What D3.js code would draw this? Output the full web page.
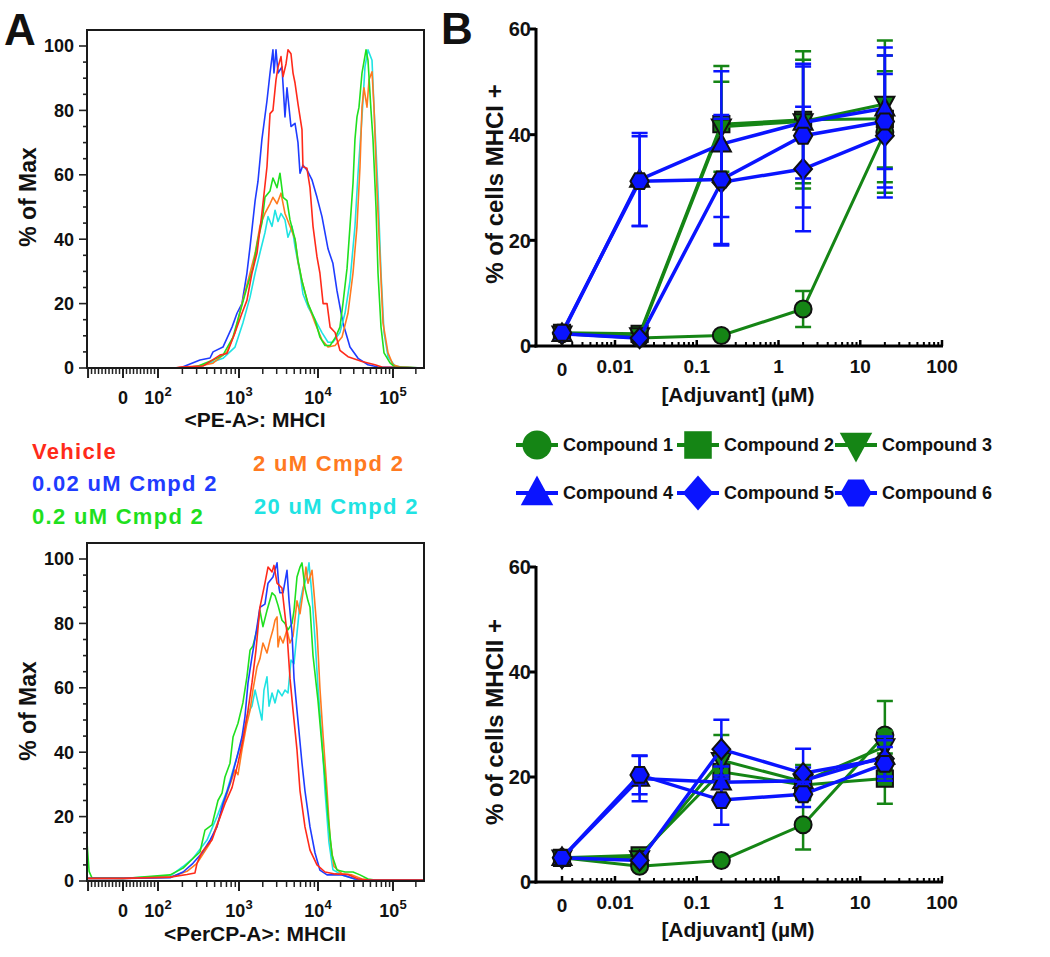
<!DOCTYPE html>
<html><head><meta charset="utf-8">
<script src="https://cdn.jsdelivr.net/npm/d3@7"></script>
<style>
body{margin:0;background:#fff;}
svg text{font-family:"Liberation Sans",Arial,Helvetica,sans-serif;font-weight:bold;fill:#111;}
</style></head><body>
<svg id="chart" width="1050" height="957"></svg>
<script>
// ---------------- Panel A data: flow histograms (x = fluorescence, y = % of Max) ----------------
const histLegend = ["Vehicle", "0.02 uM Cmpd 2", "0.2 uM Cmpd 2", "2 uM Cmpd 2", "20 uM Cmpd 2"];
const histColors = ["#ff2a1a", "#1f3cff", "#1fe01f", "#ff7a1f", "#1fe3e3"];

const mhciVehicle = [[-103,0],[162,0],[187,0.3],[359,0.6],[582,4],[711,4.5],[893,11],[1090,17],[1260,21],[1460,29.5],[1690,35.7],[1950,48],[2260,62.5],[2470,79],[2690,80],[2940,89.5],[3120,93.5],[3400,96.7],[3610,90.5],[3940,94.5],[4170,98.8],[4550,97.6],[4830,91.6],[5120,88.5],[5580,82],[6270,74],[6450,62.5],[7250,62],[7920,56],[8650,44],[9710,34.5],[10600,29.5],[11700,20],[13200,20],[14500,12.7],[16900,11],[19600,5.5],[25100,3.5],[38600,2],[57500,1],[71300,0.3],[256000,0]];
const mhci002 = [[-103,0],[187,0],[330,2.5],[439,3.1],[478,5],[634,6.5],[820,12.7],[945,17],[1090,20],[1260,29.5],[1380,37.6],[1600,52],[1740,58],[1950,71],[2260,83],[2470,91.6],[2690,98.8],[2770,91.6],[2940,98.8],[3120,91.6],[3500,93.5],[3820,78],[4050,87],[4550,75],[5120,76],[5580,70],[5920,60.5],[6450,63],[7250,61.5],[8400,58.4],[9710,53],[11300,47],[13600,37],[15800,32.5],[17900,24],[21500,14],[26700,6.5],[34200,3],[46400,1],[63100,0.3],[256000,0]];
const mhci02 = [[-103,0],[187,0],[303,0.5],[478,2.5],[634,4],[844,9.6],[1030,17.4],[1260,25],[1500,31],[1740,40],[1950,45],[2130,53],[2470,55],[2690,59],[3030,56],[3300,60.5],[3610,53],[4050,52],[4420,46],[5120,40],[5580,33.5],[6270,27],[7470,20],[9170,15],[10600,9.6],[12400,7],[14500,7],[16900,9.3],[19600,12.7],[21500,20],[24400,31],[26700,44],[29300,57.4],[31100,71],[33100,78],[35200,81],[38600,91.6],[43700,98.8],[46400,95.6],[50900,80],[54100,71],[59300,50],[63100,29.5],[69200,12.7],[75900,4.7],[91200,1.6],[106000,0.3],[256000,0]];
const mhci2 = [[-103,0],[187,0],[303,0.5],[478,1.5],[711,5],[893,11],[1090,20],[1380,29.5],[1600,35.7],[1840,44],[2130,48],[2470,51],[2690,53],[3030,51],[3400,54.3],[3820,48],[4420,44],[5120,40],[5580,33],[6270,27],[7470,20],[9170,14],[11300,8.7],[13600,6.5],[16900,7],[20900,9.6],[25100,17],[29300,29.5],[33100,44],[36300,62.5],[38600,81],[41000,87],[45000,81],[47900,89.5],[52500,92],[55800,81],[61200,55],[67100,34.5],[73600,14],[85800,4.7],[100000,1],[124000,0.3],[256000,0]];
const mhci20 = [[-103,0],[187,0],[330,0.5],[634,3],[893,6.5],[1120,14],[1380,22],[1600,29.5],[1840,35.7],[2130,42],[2330,47],[2620,44],[2860,49],[3120,45.5],[3400,48],[3820,46],[4170,40.6],[4690,44],[5120,37.6],[5920,29.5],[6450,23],[7470,19],[9170,15],[11300,11],[13600,8],[15800,8],[19600,11],[22900,17],[26700,27],[31100,44],[34200,60.5],[38600,78],[42300,93.5],[46400,98.8],[52500,95.6],[55800,81],[63100,55],[69200,29.5],[75900,11],[85800,3.5],[106000,0.6],[131000,0.3],[256000,0]];

const mhciiVehicle = [[-103,0.8],[0,0.8],[141,1.2],[228,2],[286,2.5],[303,5.5],[349,9],[464,12.7],[550,18],[671,24],[820,29],[972,36.6],[1120,43.8],[1300,53],[1460,61.5],[1640,71.7],[1840,85],[2130,92.5],[2330,97.5],[2620,96],[2770,98],[3030,92.5],[3500,91],[4050,77],[4420,63],[4830,53],[5420,40.7],[5920,28],[6840,16.8],[7920,9.6],[9710,5],[12400,2.8],[16900,2.2],[25100,2],[34200,0.6],[46400,0.3],[256000,0.3]];
const mhcii002 = [[-103,0.8],[0,0.8],[141,1],[204,2.8],[270,5.5],[349,8.7],[439,12.7],[535,16.8],[634,24],[774,30.4],[945,38.5],[1090,44.7],[1190,51],[1300,61.5],[1460,69.6],[1690,79],[1840,85],[2130,86],[2330,92.5],[2690,94.4],[3030,98.8],[3210,91],[3300,89.5],[3610,89.5],[4050,96.5],[4300,87],[4690,77],[4970,63],[5420,53],[6270,36.6],[6840,28],[7920,16.8],[9170,8.7],[10600,3.4],[13200,1.9],[20900,1.9],[31100,0.6],[42300,0.3],[256000,0.3]];
const mhcii02 = [[-103,12],[-97,3],[-89,1],[0,0.8],[141,1.9],[204,4],[270,7],[330,9],[380,15.8],[464,17.4],[550,25],[617,27.3],[671,32.3],[774,36.6],[844,44.7],[972,49],[1120,55.3],[1260,63.4],[1380,71.7],[1500,73],[1690,78],[1840,84],[2010,79],[2260,84],[2620,89.5],[2860,88.6],[3120,85.6],[3500,81],[3820,80],[4170,78],[4690,80],[4970,84],[5420,94.4],[5920,97.5],[6270,98.8],[6840,91],[7470,87],[7920,85],[8650,70],[10000,56],[11300,42],[12400,32],[13600,20],[15400,8],[17900,3.4],[22900,2.8],[29300,2.8],[36300,1.9],[46400,0.6],[57500,0.3],[256000,0.3]];
const mhcii2 = [[-103,0.8],[0,0.8],[141,1.2],[228,3],[303,5.5],[439,11.8],[582,20],[731,28],[893,34.5],[972,33],[1090,40.7],[1260,49],[1380,53],[1500,59.3],[1690,66.5],[1840,69],[2010,73.9],[2260,70.8],[2470,74.8],[2690,78],[2860,81],[3030,82],[3120,72.7],[3300,76],[3610,73.9],[4050,78],[4420,73.9],[4830,76],[5420,87],[5920,83],[6450,89.5],[7040,97.5],[7470,92.5],[8400,96.5],[8900,89.5],[9710,78],[10600,60],[11700,45],[13200,28],[14500,13],[16300,4.5],[20900,2.2],[28400,1.9],[38600,0.6],[52500,0.3],[256000,0.3]];
const mhcii20 = [[-103,0.8],[0,0.8],[141,1.5],[204,4.5],[270,7],[403,12.7],[535,20],[711,28],[893,36.6],[1030,41.6],[1190,47.8],[1300,52.2],[1460,54.3],[1600,59.3],[1740,55.3],[1950,50],[2070,59.3],[2260,63.4],[2400,54.3],[2620,58.4],[2860,55.3],[3120,59.3],[3500,57.5],[3820,59.3],[4170,58.4],[4550,68.6],[4970,67.5],[5420,77],[5920,86.3],[6450,91],[7250,94.4],[7690,98.8],[8400,88.6],[9170,75],[10000,60],[11300,44],[12400,28],[14000,12],[15800,3.5],[20900,1.9],[31100,0.6],[42300,0.3],[256000,0.3]];

const histMajorTicks = [0, 100, 1000, 10000, 100000];
const histMajorExp = [null, 2, 3, 4, 5];
const histYTicks = [0, 20, 40, 60, 80, 100];

// ---------------- Panel B data: dose response ----------------
const doses = [0, 0.02, 0.2, 2, 20];
const doseTickValues = [0, 0.01, 0.1, 1, 10, 100];
const doseTickLabels = ["0", "0.01", "0.1", "1", "10", "100"];
const pctTicks = [0, 20, 40, 60];
const compounds = ["Compound 1", "Compound 2", "Compound 3", "Compound 4", "Compound 5", "Compound 6"];
const compoundShapes = ["circle", "square", "triangleDown", "triangleUp", "diamond", "hexagon"];
const compoundColors = ["#158515", "#158515", "#158515", "#0a14ff", "#0a14ff", "#0a14ff"];

const mhciMean = [
  [2.3, 1.5, 2.0, 7.0, 40.5],
  [2.5, 2.3, 42.0, 42.8, 43.0],
  [2.3, 2.0, 41.5, 42.5, 45.8],
  [2.3, 31.5, 38.2, 42.3, 45.0],
  [2.3, 1.5, 31.0, 33.5, 39.8],
  [2.5, 31.2, 31.5, 39.8, 42.5]
];
const mhciSem = [
  [0, 0, 0, 3.4, 11.5],
  [0, 0, 11, 13, 12],
  [0, 0, 8.5, 11.7, 12],
  [0, 8.8, 13.8, 10.6, 11.5],
  [0, 0, 12, 11.8, 11.7],
  [0, 8.5, 12.2, 13.6, 12.5]
];
const mhciiMean = [
  [4.6, 3.0, 4.1, 10.9, 28.0],
  [4.6, 5.1, 21.0, 18.5, 19.7],
  [4.6, 4.5, 23.2, 19.1, 25.8],
  [4.6, 19.7, 19.0, 19.3, 23.9],
  [4.6, 4.1, 25.3, 20.7, 23.5],
  [4.6, 20.4, 15.6, 16.7, 22.5]
];
const mhciiSem = [
  [0, 0, 0, 4.7, 6.5],
  [0, 0, 2.5, 2.5, 4.8],
  [0, 0, 4.8, 3.2, 3],
  [0, 4.3, 3, 2.5, 3.8],
  [0, 0, 5.6, 4.7, 3.5],
  [0, 3.7, 4.7, 2.4, 3.2]
];

// ---------------- drawing ----------------
const svg = d3.select("#chart");

// biexponential-like display: linear below 100, log10 above
const tfm = v => v >= 100 ? Math.log10(v) : v / 50;
const xHist = d3.scaleLinear()
  .domain([tfm(-103), tfm(0), tfm(100), tfm(1000), tfm(10000), tfm(100000), tfm(256000)])
  .range([87, 123, 158, 239, 318, 393, 424]);
const hx = v => xHist(tfm(v));

function histPanel(top, bottom, curves, order, xTitle, labelBase, titleBase, yTitleY, clipId) {
  const y = d3.scaleLinear().domain([0, 100]).range([bottom, top + 16]);
  const g = svg.append("g");
  g.append("clipPath").attr("id", clipId).append("rect")
    .attr("x", 87).attr("y", top).attr("width", 337).attr("height", bottom - top + 1);
  const minor = d3.range(0, 101, 5);
  g.selectAll(null).data(minor).join("line")
    .attr("x1", d => d % 20 === 0 ? 79 : 83).attr("x2", 87)
    .attr("y1", d => y(d)).attr("y2", d => y(d))
    .attr("stroke", "#222").attr("stroke-width", 1.6);
  g.selectAll(null).data(histYTicks).join("text")
    .attr("x", 74).attr("y", d => y(d)).attr("dy", "0.35em")
    .attr("text-anchor", "end").attr("font-size", 18).text(d => d);
  const minorX = [];
  for (let v = -90; v < 0; v += 10) minorX.push(v);
  for (let v = 10; v < 100; v += 10) minorX.push(v);
  [100, 1000, 10000, 100000].forEach(dec => { for (let k = 2; k <= 9; k++) if (dec * k <= 256000) minorX.push(dec * k); });
  g.selectAll(null).data(minorX).join("line")
    .attr("x1", d => hx(d)).attr("x2", d => hx(d))
    .attr("y1", bottom).attr("y2", bottom + 6)
    .attr("stroke", "#222").attr("stroke-width", 1.5);
  g.selectAll(null).data([-100].concat(histMajorTicks)).join("line")
    .attr("x1", d => hx(d)).attr("x2", d => hx(d))
    .attr("y1", bottom).attr("y2", bottom + 10)
    .attr("stroke", "#222").attr("stroke-width", 2);
  histMajorTicks.forEach((v, i) => {
    const t = g.append("text").attr("x", hx(v)).attr("y", labelBase)
      .attr("text-anchor", "middle").attr("font-size", 18);
    if (histMajorExp[i] === null) t.text("0");
    else {
      t.append("tspan").text("10");
      t.append("tspan").attr("dy", -8).attr("font-size", 13).text(histMajorExp[i]);
    }
  });
  const line = d3.line().x(d => hx(d[0])).y(d => y(d[1]));
  const cg = g.append("g").attr("clip-path", `url(#${clipId})`);
  order.forEach(i => {
    cg.append("path").datum(curves[i]).attr("d", line)
      .attr("fill", "none").attr("stroke", histColors[i])
      .attr("stroke-width", 1.6).attr("stroke-linejoin", "round");
  });
  g.append("rect").attr("x", 87).attr("y", top).attr("width", 337).attr("height", bottom - top)
    .attr("fill", "none").attr("stroke", "#1a1a1a").attr("stroke-width", 2);
  g.append("text").attr("x", 255).attr("y", titleBase).attr("text-anchor", "middle")
    .attr("font-size", 21).text(xTitle);
  g.append("text").attr("transform", `translate(36,${yTitleY}) rotate(-90)`)
    .attr("text-anchor", "middle").attr("font-size", 23).text("% of Max");
}

histPanel(30, 368, [mhciVehicle, mhci002, mhci02, mhci2, mhci20], [1, 4, 3, 2, 0],
  "<PE-A>: MHCI", 404, 427, 197, "clipA1");
histPanel(543, 881, [mhciiVehicle, mhcii002, mhcii02, mhcii2, mhcii20], [4, 3, 2, 1, 0],
  "<PerCP-A>: MHCII", 917, 941, 711, "clipA2");

// legend A
const legA = [
  {i: 0, x: 32, y: 459}, {i: 1, x: 32, y: 491}, {i: 2, x: 32, y: 524},
  {i: 3, x: 253, y: 471}, {i: 4, x: 254, y: 514}
];
legA.forEach(d => {
  svg.append("text").attr("x", d.x).attr("y", d.y).attr("font-size", 22)
    .attr("letter-spacing", 1.3).style("fill", histColors[d.i]).text(histLegend[d.i]);
});

svg.append("text").attr("x", 4).attr("y", 45).attr("font-size", 44).text("A");
svg.append("text").attr("x", 441).attr("y", 44).attr("font-size", 44).text("B");

// ---------------- Panel B ----------------
const xLog = d3.scaleLog().domain([0.01, 100]).range([615, 942]);
const zeroPos = 562;
const xB = d => d === 0 ? zeroPos : xLog(d);

function markerPath(shape, r) {
  const p = d3.path();
  if (shape === "circle") { p.moveTo(r, 0); p.arc(0, 0, r, 0, 2 * Math.PI); }
  else if (shape === "square") { const s = r * 0.95; p.rect(-s, -s, 2 * s, 2 * s); }
  else if (shape === "triangleUp") { p.moveTo(0, -r * 1.2); p.lineTo(r * 1.12, r * 0.85); p.lineTo(-r * 1.12, r * 0.85); p.closePath(); }
  else if (shape === "triangleDown") { p.moveTo(0, r * 1.2); p.lineTo(r * 1.12, -r * 0.85); p.lineTo(-r * 1.12, -r * 0.85); p.closePath(); }
  else if (shape === "diamond") { p.moveTo(0, -r * 1.2); p.lineTo(r * 1.05, 0); p.lineTo(0, r * 1.2); p.lineTo(-r * 1.05, 0); p.closePath(); }
  else if (shape === "hexagon") {
    for (let k = 0; k < 6; k++) {
      const a = k * Math.PI / 3;
      const px = r * 1.08 * Math.cos(a), py = r * 1.08 * Math.sin(a);
      if (k === 0) p.moveTo(px, py); else p.lineTo(px, py);
    }
    p.closePath();
  }
  return p.toString();
}

function dosePanel(y0, y60, means, sems, yTitle, labelBase, titleBase, yTitleY) {
  const y = d3.scaleLinear().domain([0, 60]).range([y0, y60]);
  const g = svg.append("g");
  g.append("line").attr("x1", 536).attr("x2", 536).attr("y1", y(60) - 1).attr("y2", y(0) + 1.5)
    .attr("stroke", "#000").attr("stroke-width", 3);
  g.append("line").attr("x1", 534.5).attr("x2", 943).attr("y1", y(0)).attr("y2", y(0))
    .attr("stroke", "#000").attr("stroke-width", 3);
  g.selectAll(null).data(pctTicks).join("line")
    .attr("x1", 530).attr("x2", 536).attr("y1", d => y(d)).attr("y2", d => y(d))
    .attr("stroke", "#000").attr("stroke-width", 3);
  g.selectAll(null).data(pctTicks).join("text")
    .attr("x", 531).attr("y", d => y(d)).attr("dy", "0.36em").attr("text-anchor", "end")
    .attr("font-size", 20).text(d => d);
  const minor = [];
  for (let k = 3; k <= 9; k++) minor.push(k * 0.001);
  [0.01, 0.1, 1, 10].forEach(dec => { for (let k = 2; k <= 9; k++) minor.push(dec * k); });
  g.selectAll(null).data(minor).join("line")
    .attr("x1", d => xB(d)).attr("x2", d => xB(d)).attr("y1", y(0)).attr("y2", y(0) - 4)
    .attr("stroke", "#000").attr("stroke-width", 2);
  g.selectAll(null).data(doseTickValues).join("line")
    .attr("x1", d => xB(d)).attr("x2", d => xB(d)).attr("y1", y(0)).attr("y2", y(0) - 6)
    .attr("stroke", "#000").attr("stroke-width", 2.5);
  g.selectAll(null).data(doseTickValues).join("text")
    .attr("x", d => xB(d)).attr("y", (d, i) => labelBase + (i === 0 ? 3 : 0))
    .attr("text-anchor", "middle").attr("font-size", 19).text((d, i) => doseTickLabels[i]);
  g.append("text").attr("x", 738).attr("y", titleBase).attr("text-anchor", "middle")
    .attr("font-size", 21).text("[Adjuvant] (\u00b5M)");
  g.append("text").attr("transform", `translate(503,${yTitleY}) rotate(-90)`)
    .attr("text-anchor", "middle").attr("font-size", 24).text(yTitle);
  const line = d3.line().x(d => xB(d.x)).y(d => y(d.m));
  compounds.forEach((name, c) => {
    const pts = doses.map((x, i) => ({x, m: means[c][i], s: sems[c][i]}));
    const col = compoundColors[c];
    const sg = g.append("g");
    const eb = pts.filter(d => d.s > 0);
    sg.selectAll(null).data(eb).join("path")
      .attr("d", d => `M${xB(d.x)},${y(d.m - d.s)}V${y(d.m + d.s)}M${xB(d.x) - 8},${y(d.m + d.s)}h16M${xB(d.x) - 8},${y(d.m - d.s)}h16`)
      .attr("fill", "none").attr("stroke", col).attr("stroke-width", 2.5);
    sg.append("path").datum(pts).attr("d", line).attr("fill", "none")
      .attr("stroke", col).attr("stroke-width", c < 3 ? 3 : 3.5);
    sg.selectAll(null).data(pts).join("path")
      .attr("transform", d => `translate(${xB(d.x)},${y(d.m)})`)
      .attr("d", markerPath(compoundShapes[c], 8.5))
      .attr("fill", col).attr("stroke", "#111").attr("stroke-width", 2);
  });
}

dosePanel(346, 29, mhciMean, mhciSem, "% of cells MHCI +", 373, 402, 184);
dosePanel(882, 567, mhciiMean, mhciiSem, "% of cells MHCII +", 909, 937, 722);

const legB = svg.append("g");
const legX = [537, 698, 856];
const legY = [445, 493];
compounds.forEach((name, c) => {
  const cx = legX[c % 3], cy = legY[Math.floor(c / 3)];
  legB.append("line").attr("x1", cx - 21).attr("x2", cx + 21).attr("y1", cy).attr("y2", cy)
    .attr("stroke", compoundColors[c]).attr("stroke-width", 4);
  legB.append("path").attr("transform", `translate(${cx},${cy})`)
    .attr("d", markerPath(compoundShapes[c], 14.5)).attr("fill", compoundColors[c]);
  legB.append("text").attr("x", cx + 26).attr("y", cy).attr("dy", "0.35em")
    .attr("font-size", 18).text(name);
});
</script></body></html>
